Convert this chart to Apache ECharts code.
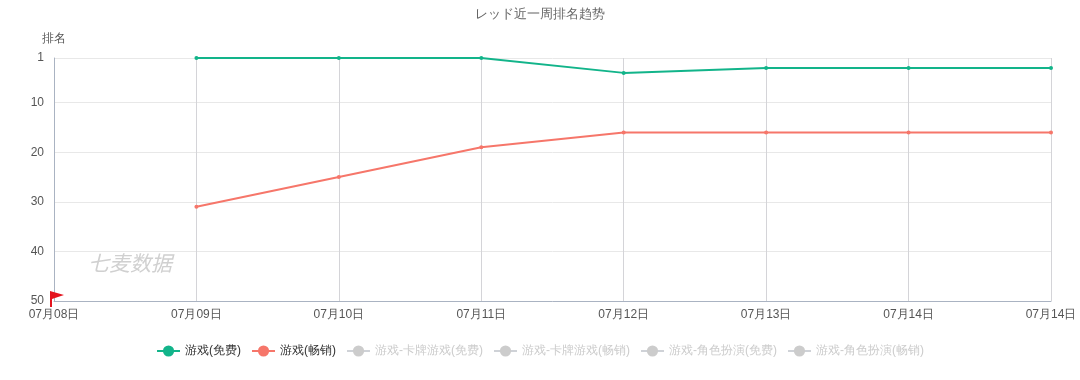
<!DOCTYPE html>
<html><head><meta charset="utf-8">
<script src="https://cdn.jsdelivr.net/npm/echarts@6/dist/echarts.min.js"></script>
<style>html,body{margin:0;padding:0;background:#fff}#c{width:1080px;height:380px}</style>
</head><body><div id="c"></div>
<script>
const categories = ['07月08日','07月09日','07月10日','07月11日','07月12日','07月13日','07月14日','07月14日'];
const freeRank = [null, 1, 1, 1, 4, 3, 3, 3];
const grossRank = [null, 31, 25, 19, 16, 16, 16, 16];
const seriesNames = ['游戏(免费)','游戏(畅销)','游戏-卡牌游戏(免费)','游戏-卡牌游戏(畅销)','游戏-角色扮演(免费)','游戏-角色扮演(畅销)'];
const seriesData = [freeRank, grossRank, [], [], [], []];
const colors = ['#12b48a','#f6766a','#ccc','#ccc','#ccc','#ccc'];

const chart = echarts.init(document.getElementById('c'));
const selected = {};
seriesNames.forEach((n,i)=>{ selected[n] = i < 2; });
chart.setOption({
  animation:false,
  title:{text:'レッド近一周排名趋势',left:'center',top:3,textStyle:{fontSize:13,fontWeight:'normal',color:'#666'}},
  color:colors,
  grid:{left:54,right:29,top:58,bottom:79},
  legend:{bottom:18,itemGap:10,itemWidth:23,itemHeight:14,selected:selected,textStyle:{color:'#333',fontSize:12},inactiveColor:'#ccc',data:seriesNames},
  xAxis:{type:'category',data:categories,boundaryGap:false,
    axisLine:{lineStyle:{color:'#aab3c2'}},axisTick:{show:false},
    axisLabel:{color:'#555',fontSize:12,margin:8,showMinLabel:true,showMaxLabel:true,interval:0},
    splitLine:{show:true,lineStyle:{color:'#d4d4d8'}}},
  yAxis:{type:'value',name:'排名',inverse:true,min:1,max:50,
    nameLocation:'start',nameGap:13,nameTextStyle:{color:'#555',fontSize:12,align:'right',padding:[0,-12,0,0]},
    axisLine:{show:true,lineStyle:{color:'#aab3c2'}},axisTick:{show:false},
    axisLabel:{color:'#555',fontSize:12,margin:10},
    splitLine:{lineStyle:{color:'#e8e8e8'}}},
  graphic:[{type:'text',left:88,top:253,style:{text:'七麦数据',fontSize:21,fontStyle:'italic',fill:'#d0d0d0',fontFamily:'Noto Sans CJK SC'}}],
  series: seriesNames.map((n,i)=>({
    name:n,type:'line',data:seriesData[i],symbol:'circle',symbolSize:4,showSymbol:true,
    lineStyle:{width:2},connectNulls:false,
    markPoint: i===0 ? {symbol:'path://M0,0 L0,20 L2,20 L2,10 L14,5 Z',symbolSize:[14,16],symbolOffset:[3,-2],
      itemStyle:{color:'#e4141e'},label:{show:false},data:[{coord:[0,50]}]} : undefined
  }))
});
</script></body></html>
